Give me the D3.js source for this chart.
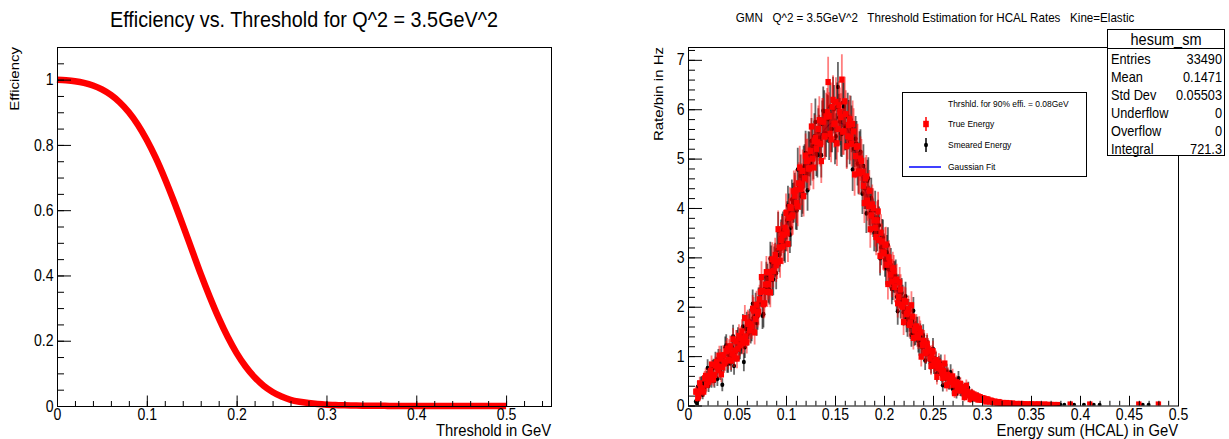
<!DOCTYPE html>
<html lang="en">
<head>
<meta charset="utf-8">
<title>HCAL threshold estimation</title>
<script src="https://d3js.org/d3.v7.min.js"></script>
<style>
  body { margin: 0; background: #fff; }
  svg { font-family: "Liberation Sans", Arial, sans-serif; }
  .pre { white-space: pre; }
</style>
</head>
<body>
<script>
// ---- data ----
// efficiency vs threshold, one value every 0.01 GeV starting at 0
const effStart = 0, effStep = 0.01;
const efficiency = [
  1.000, 0.998, 0.995, 0.990, 0.982, 0.970, 0.953, 0.930, 0.900, 0.862,
  0.815, 0.760, 0.697, 0.628, 0.555, 0.480, 0.405, 0.335, 0.270, 0.212,
  0.162, 0.121, 0.088, 0.062, 0.043, 0.029, 0.019, 0.013, 0.009, 0.006,
  0.004, 0.003, 0.002, 0.0015, 0.001, 0.001, 0.001, 0, 0, 0,
  0, 0, 0, 0, 0, 0, 0, 0, 0, 0, 0
];
const effXTicks = [0, 0.1, 0.2, 0.3, 0.4, 0.5];
const effXLabels = ["0", "0.1", "0.2", "0.3", "0.4", "0.5"];
const effYTicks = [0, 0.2, 0.4, 0.6, 0.8, 1];
const effYLabels = ["0", "0.2", "0.4", "0.6", "0.8", "1"];

// hesum histograms (rate/bin), bins every 0.001 GeV starting at 0.008
// 20 bins per row
const binStart = 0.008, binStep = 0.001;
const trueEnergy = [
  0.28,0.28,0.15,0.20,0.45,0.35,0.34,0.30,0.28,0.55,0.60,0.42,0.58,0.48,0.52,0.70,0.83,0.58,0.53,0.62,
  0.81,0.88,0.79,0.72,1.01,0.95,0.63,0.78,1.02,0.85,0.89,1.10,1.15,0.92,1.13,1.20,0.91,1.05,1.34,0.98,
  1.11,1.30,0.95,1.15,1.41,1.22,1.36,1.50,1.26,1.30,1.77,1.40,1.28,1.68,1.65,1.52,1.64,1.60,1.96,1.92,
  1.48,1.75,2.04,1.85,1.90,2.15,2.30,2.60,2.32,2.05,2.07,2.45,2.70,2.30,2.46,2.70,2.29,2.58,2.96,2.72,
  2.93,3.05,2.84,2.90,3.57,3.20,2.93,3.35,3.46,3.22,3.46,3.60,3.90,3.50,3.27,3.80,4.02,4.00,3.83,3.85,
  4.34,4.25,4.36,4.10,4.03,4.50,4.82,4.38,4.48,4.75,4.24,4.60,5.06,4.95,4.96,4.80,4.80,5.15,5.65,5.00,
  4.82,5.35,5.42,5.20,5.33,5.60,5.78,5.30,4.95,5.75,5.75,5.45,5.45,5.85,5.94,6.55,5.86,5.50,5.39,6.05,
  6.19,5.70,5.71,6.15,5.31,5.60,6.08,5.95,5.84,6.60,5.55,5.55,6.16,5.90,5.25,5.45,5.68,5.80,5.43,5.30,
  5.70,5.55,4.68,5.05,5.24,5.25,4.74,4.70,5.00,4.95,4.73,4.45,4.10,4.60,4.64,4.15,4.04,4.35,3.57,3.85,
  4.07,4.00,3.75,3.60,3.41,3.75,3.93,3.35,3.03,3.50,3.32,3.10,3.08,3.25,3.26,2.85,2.46,3.00,2.90,2.65,
  2.51,2.78,2.72,2.40,2.53,2.55,2.07,2.20,2.49,2.35,2.04,2.00,1.69,2.12,2.10,1.85,1.88,1.95,1.63,1.68,
  2.03,1.80,1.37,1.52,1.59,1.60,1.43,1.38,1.56,1.48,0.99,1.22,1.31,1.30,1.06,1.08,1.24,1.15,1.11,0.95,
  0.80,1.02,1.10,0.86,0.81,0.92,0.58,0.76,0.87,0.80,0.73,0.66,0.56,0.70,0.85,0.58,0.41,0.62,0.58,0.48,
  0.48,0.52,0.59,0.42,0.25,0.45,0.47,0.36,0.31,0.39,0.44,0.30,0.36,0.32,0.17,0.26,0.40,0.28,0.21,0.21,
  0.13,0.24,0.24,0.18,0.15,0.20,0.20,0.15,0.12,0.17,0.17,0.13,0.12,0.14,0.14,0.11,0.08,0.12,0.12,0.09,
  0.08,0.10,0.09,0.07,0.06,0.08,0.07,0.06,0.05,0.07,0.06,0.05,0.04,0.05,0.05,0.04,0.04,0.05,0.04,0.03,
  0.04,0.03,0.03,0.04,0.03,0.02,0.02,0.03,0.03,0.02,0.02,0.03,0.03,0.02,0.02,0.02,0.02,0.01,0.01,0.02,
  0.02,0.01,0.02,0.02,0.01,0.01,0.02,0.01,0.01,0.02,0.02,0.01,0.01,0.01,0.01,0,0.02,0.01,0.01,0.01,
  0.01,0,0.01,0.01,0,0,0.01,0,0,0.01,0,0,0,0,0,0,0,0,0,0,
  0,0,0.02,0,0,0,0,0,0,0,0,0,0,0,0,0,0,0,0,0,
  0,0,0.02,0,0,0,0,0,0,0,0,0,0,0,0,0,0,0,0,0,
  0,0,0,0,0,0,0,0,0,0,0,0,0,0,0,0,0,0,0,0,
  0,0,0,0,0,0,0,0,0,0,0,0,0.02,0,0,0,0,0,0,0,
  0,0,0,0,0,0,0,0,0,0,0,0,0.02,0,0,0,0,0,0,0,
  0,0,0,0,0,0,0,0,0,0,0,0
];
const smearedEnergy = [
  0.08,0.05,0.38,0.15,0.21,0.45,0.46,0.22,0.44,0.38,0.39,0.55,0.76,0.40,0.58,0.62,0.50,0.75,0.77,0.50,
  0.90,0.80,0.54,0.95,0.88,0.68,1.01,0.42,0.84,0.90,1.18,1.22,0.85,0.85,1.04,1.00,0.87,1.18,1.40,0.80,
  1.11,1.10,1.30,1.35,1.13,1.15,1.26,1.28,1.60,0.88,1.18,1.55,1.64,1.45,1.60,1.70,1.50,1.55,2.06,1.78,
  1.78,2.00,1.67,1.80,2.10,2.10,2.32,2.30,1.82,1.85,2.36,2.40,2.59,2.55,2.39,2.35,2.97,2.90,2.54,2.55,
  2.88,2.95,2.68,3.15,3.54,3.05,3.17,3.40,3.51,3.55,3.29,3.25,3.50,3.75,4.05,3.90,3.46,3.60,4.17,4.10,
  4.11,4.30,3.96,3.95,4.78,4.40,4.39,4.65,4.23,4.30,4.82,4.85,5.11,4.70,4.36,5.10,5.09,4.90,5.36,5.25,
  5.03,5.45,5.74,5.10,5.07,5.55,5.42,5.35,5.07,5.70,5.97,5.90,5.51,5.50,5.82,5.80,5.44,6.05,5.60,5.60,
  6.16,6.00,5.35,5.45,6.05,6.45,5.83,5.75,5.51,5.50,6.13,6.05,5.64,5.65,5.28,5.85,5.71,5.35,5.79,5.60,
  4.78,5.20,5.29,5.40,5.30,4.90,4.71,5.10,5.14,4.70,4.29,4.85,4.40,4.40,3.89,4.55,4.60,4.05,3.90,4.20,
  4.00,3.80,3.50,3.95,3.48,3.50,3.78,3.65,2.98,3.20,3.41,3.40,3.13,2.95,2.78,3.10,3.25,2.75,2.70,2.85,
  2.36,2.45,2.61,2.60,2.63,2.20,1.91,2.35,2.26,2.05,2.28,2.15,1.89,1.95,2.21,1.75,1.65,1.88,1.76,1.60,
  1.43,1.72,1.92,1.45,1.47,1.55,1.55,1.30,1.23,1.42,1.22,1.18,1.41,1.25,0.91,1.05,1.21,1.12,1.04,0.92,
  0.83,0.98,1.15,0.82,0.82,0.90,0.64,0.72,0.82,0.78,0.85,0.62,0.41,0.68,0.65,0.55,0.68,0.60,0.46,0.46,
  0.67,0.50,0.34,0.40,0.42,0.44,0.24,0.34,0.55,0.38,0.30,0.29,0.36,0.32,0.20,0.25,0.22,0.27,0.36,0.22,
  0.14,0.23,0.23,0.18,0.16,0.19,0.15,0.15,0.18,0.16,0.12,0.12,0.13,0.13,0.14,0.10,0.09,0.11,0.11,0.08,
  0.09,0.09,0.07,0.07,0.08,0.07,0.06,0.05,0.05,0.06,0.06,0.05,0.05,0.04,0.05,0.05,0.04,0.03,0.04,0.04,
  0.03,0.03,0.04,0.02,0.02,0.03,0.03,0.02,0.02,0.02,0.03,0.02,0.02,0.02,0.02,0.03,0.03,0.02,0.02,0.01,
  0.01,0.02,0.02,0.01,0.02,0.01,0.01,0.02,0.02,0.01,0.01,0.01,0.01,0.01,0.02,0.01,0.01,0.01,0.01,0,
  0.01,0.01,0,0,0.01,0,0,0.01,0.01,0,0.01,0.01,0.01,0,0,0,0.01,0,0,0,
  0,0,0,0,0,0,0.01,0,0,0,0,0,0,0,0,0,0.01,0,0,0,
  0,0,0,0,0,0,0.01,0,0,0,0,0,0.01,0,0,0,0,0,0,0,
  0,0,0,0,0,0,0,0,0,0,0,0,0,0,0,0,0,0,0,0,
  0,0,0,0,0,0,0,0,0,0,0,0,0,0,0,0,0.01,0,0,0,
  0,0,0.01,0,0,0,0,0,0,0,0,0,0,0,0,0,0,0,0,0,
  0,0,0,0,0,0,0,0,0,0,0,0
];
// statistical error per bin ~ sqrt(content * weight)
const errWeight = 0.04;

// gaussian fit curve, every 0.01 GeV starting at 0.06
const fitStart = 0.06, fitStep = 0.01;
const fitValues = [1.45,1.95,2.50,3.05,3.65,4.25,4.80,5.25,5.60,5.75,
                   5.68,5.20,4.45,3.72,3.08,2.50,2.00,1.58,1.20,0.90,
                   0.66,0.46,0.31,0.20,0.12];

const rateXTicks = [0, 0.05, 0.1, 0.15, 0.2, 0.25, 0.3, 0.35, 0.4, 0.45, 0.5];
const rateXLabels = ["0", "0.05", "0.1", "0.15", "0.2", "0.25", "0.3", "0.35", "0.4", "0.45", "0.5"];
const rateYTicks = [0, 1, 2, 3, 4, 5, 6, 7];
const rateYLabels = ["0", "1", "2", "3", "4", "5", "6", "7"];

const statNames = ["Entries", "Mean", "Std Dev", "Underflow", "Overflow", "Integral"];
const statValues = ["33490", "0.1471", "0.05503", "0", "0", "721.3"];

const legendLabels = ["Thrshld. for 90% effi. = 0.08GeV", "True Energy", "Smeared Energy", "Gaussian Fit"];

// ---- constants ----
const w = 1229, h = 439;
const sx = 0.88;           // the canvas is a bit squeezed sideways
const tickFont = 16;

const svg = d3.select("body").append("svg")
    .attr("width", w)
    .attr("height", h);

// squeezed text helper
function label(sel, x, y, str, size, anchor, rotated) {
    const g = sel.append("g")
        .attr("transform", rotated
            ? "translate(" + x + "," + y + ") rotate(-90) scale(1," + sx + ")"
            : "translate(" + x + "," + y + ") scale(" + sx + ",1)");
    return g.append("text")
        .attr("class", "pre")
        .attr("text-anchor", anchor)
        .attr("font-size", size)
        .attr("fill", "#000")
        .text(str);
}

function styleAxis(g) {
    g.select(".domain").remove();
    g.attr("font-size", null).attr("font-family", null);
    g.selectAll("text").attr("font-size", tickFont).attr("transform", "scale(" + sx + ",1)");
}

// draw ROOT-like axes with inside ticks
function drawAxes(x, y, xTicks, xLabels, xMinor, yTicks, yLabels, yMinor, big) {
    const x0 = x.range()[0], x1 = x.range()[1];
    const y0 = y.range()[0], y1 = y.range()[1];

    svg.append("g").attr("transform", "translate(0," + y0 + ")")
        .call(d3.axisBottom(x).tickValues(xMinor).tickSize(-big.xMinor).tickSizeOuter(0).tickFormat(""))
        .call(styleAxis);
    svg.append("g").attr("transform", "translate(0," + y0 + ")")
        .call(d3.axisBottom(x).tickValues(xTicks).tickSize(-big.xMajor).tickSizeOuter(0).tickPadding(3)
            .tickFormat((d, i) => xLabels[i]))
        .call(styleAxis);

    svg.append("g").attr("transform", "translate(" + x0 + ",0)")
        .call(d3.axisLeft(y).tickValues(yMinor).tickSize(-big.yMinor).tickSizeOuter(0).tickFormat(""))
        .call(styleAxis);
    svg.append("g").attr("transform", "translate(" + x0 + ",0)")
        .call(d3.axisLeft(y).tickValues(yTicks).tickSize(-big.yMajor).tickSizeOuter(0).tickPadding(4)
            .tickFormat((d, i) => yLabels[i]))
        .call(styleAxis);

    svg.append("rect")
        .attr("x", x0 + 0.5).attr("y", y1 + 0.5)
        .attr("width", x1 - x0).attr("height", y0 - y1)
        .attr("fill", "none").attr("stroke", "#000").attr("stroke-width", 1);
}

// ================= left pad: efficiency =================
const xEff = d3.scaleLinear().domain([0, 0.55]).range([57, 551]);
const yEff = d3.scaleLinear().domain([0, 1.1]).range([406, 47]);

const effLine = d3.line()
    .x((d, i) => xEff(effStart + i * effStep))
    .y(d => yEff(d))
    .curve(d3.curveMonotoneX);

svg.append("path")
    .datum(efficiency)
    .attr("d", effLine)
    .attr("fill", "none")
    .attr("stroke", "#ff0000")
    .attr("stroke-width", 6.5);

drawAxes(xEff, yEff, effXTicks, effXLabels, d3.range(0, 0.5501, 0.02),
    effYTicks, effYLabels, d3.range(0, 1.1001, 0.05),
    {xMajor: 10.5, xMinor: 5, yMajor: 14, yMinor: 7});

label(svg, 304, 27, "Efficiency vs. Threshold for Q^2 = 3.5GeV^2", 22.5, "middle");
label(svg, 551, 436, "Threshold in GeV", 16.8, "end");
label(svg, 19, 47, "Efficiency", 15, "end", true);

// ================= right pad: rates =================
const xRate = d3.scaleLinear().domain([0, 0.5]).range([688, 1178]);
const yRate = d3.scaleLinear().domain([0, 7.26]).range([405.5, 47]);

svg.append("clipPath").attr("id", "frameClip")
    .append("rect").attr("x", 688).attr("y", 47).attr("width", 490).attr("height", 358.5);

const plot = svg.append("g").attr("clip-path", "url(#frameClip)");

// fit curve below the points
plot.append("path")
    .datum(fitValues)
    .attr("d", d3.line()
        .x((d, i) => xRate(fitStart + i * fitStep))
        .y(d => yRate(d))
        .curve(d3.curveMonotoneX))
    .attr("fill", "none")
    .attr("stroke", "#0000ff")
    .attr("stroke-width", 1.2);

function binPoints(values) {
    return values.map((v, i) => ({x: binStart + i * binStep, v: v, e: Math.sqrt(v * errWeight)}))
                 .filter(d => d.v > 0);
}
const smeared = binPoints(smearedEnergy);
const trueE = binPoints(trueEnergy);

// smeared energy: black dots
plot.append("g").selectAll("line")
    .data(smeared).enter().append("line")
    .attr("x1", d => xRate(d.x)).attr("x2", d => xRate(d.x))
    .attr("y1", d => yRate(Math.max(0, d.v - d.e))).attr("y2", d => yRate(d.v + d.e))
    .attr("stroke", "#000").attr("stroke-opacity", 0.6).attr("stroke-width", 1.8);
plot.append("g").selectAll("ellipse")
    .data(smeared).enter().append("ellipse")
    .attr("cx", d => xRate(d.x)).attr("cy", d => yRate(d.v))
    .attr("rx", 2).attr("ry", 2.3)
    .attr("fill", "#000");

// true energy: red squares
plot.append("g").selectAll("line")
    .data(trueE).enter().append("line")
    .attr("x1", d => xRate(d.x)).attr("x2", d => xRate(d.x))
    .attr("y1", d => yRate(Math.max(0, d.v - d.e))).attr("y2", d => yRate(d.v + d.e))
    .attr("stroke", "#ff0000").attr("stroke-opacity", 0.5).attr("stroke-width", 1.8);
plot.append("g").selectAll("rect")
    .data(trueE).enter().append("rect")
    .attr("x", d => xRate(d.x) - 2.7).attr("y", d => yRate(d.v) - 3.1)
    .attr("width", 5.4).attr("height", 6.2)
    .attr("fill", "#ff0000");

drawAxes(xRate, yRate, rateXTicks, rateXLabels, d3.range(0, 0.5001, 0.01),
    rateYTicks, rateYLabels, d3.range(0, 7.2601, 0.2),
    {xMajor: 9.7, xMinor: 4.7, yMajor: 14, yMinor: 7});

label(svg, 935, 22, "GMN   Q^2 = 3.5GeV^2   Threshold Estimation for HCAL Rates   Kine=Elastic", 13.2, "middle");
label(svg, 1178, 436, "Energy sum (HCAL) in GeV", 16.8, "end");
label(svg, 663, 47, "Rate/bin in Hz", 15, "end", true);

// ---- legend ----
const leg = svg.append("g");
leg.append("rect")
    .attr("x", 902.5).attr("y", 92.5).attr("width", 184).attr("height", 84)
    .attr("fill", "#fff").attr("stroke", "#000").attr("stroke-width", 1);
const legY = [104, 124, 145, 167];
legendLabels.forEach((t, i) => {
    label(leg, 948, legY[i] + 3.3, t, 9.6, "start");
});
// true energy marker
leg.append("line").attr("x1", 926).attr("x2", 926).attr("y1", legY[1] - 7).attr("y2", legY[1] + 7)
    .attr("stroke", "#ff0000").attr("stroke-width", 1.5);
leg.append("rect").attr("x", 923.2).attr("y", legY[1] - 3.2).attr("width", 5.6).attr("height", 6.4)
    .attr("fill", "#ff0000");
// smeared marker
leg.append("line").attr("x1", 926).attr("x2", 926).attr("y1", legY[2] - 7).attr("y2", legY[2] + 7)
    .attr("stroke", "#000").attr("stroke-width", 1.5);
leg.append("ellipse").attr("cx", 926).attr("cy", legY[2]).attr("rx", 2).attr("ry", 2.3).attr("fill", "#000");
// fit line
leg.append("line").attr("x1", 909).attr("x2", 941).attr("y1", legY[3]).attr("y2", legY[3])
    .attr("stroke", "#0000ff").attr("stroke-width", 1.5);

// ---- stats box ----
const st = svg.append("g");
st.append("rect")
    .attr("x", 1107.5).attr("y", 29.5).attr("width", 117).attr("height", 126)
    .attr("fill", "#fff").attr("stroke", "#000").attr("stroke-width", 1);
st.append("line").attr("x1", 1107.5).attr("x2", 1224.5).attr("y1", 48.5).attr("y2", 48.5)
    .attr("stroke", "#000");
label(st, 1166, 45, "hesum_sm", 16.5, "middle");
statNames.forEach((n, i) => {
    const yy = 64 + i * 17.9;
    label(st, 1111, yy, n, 14.5, "start");
    label(st, 1222, yy, statValues[i], 14.5, "end");
});
</script>
</body>
</html>
